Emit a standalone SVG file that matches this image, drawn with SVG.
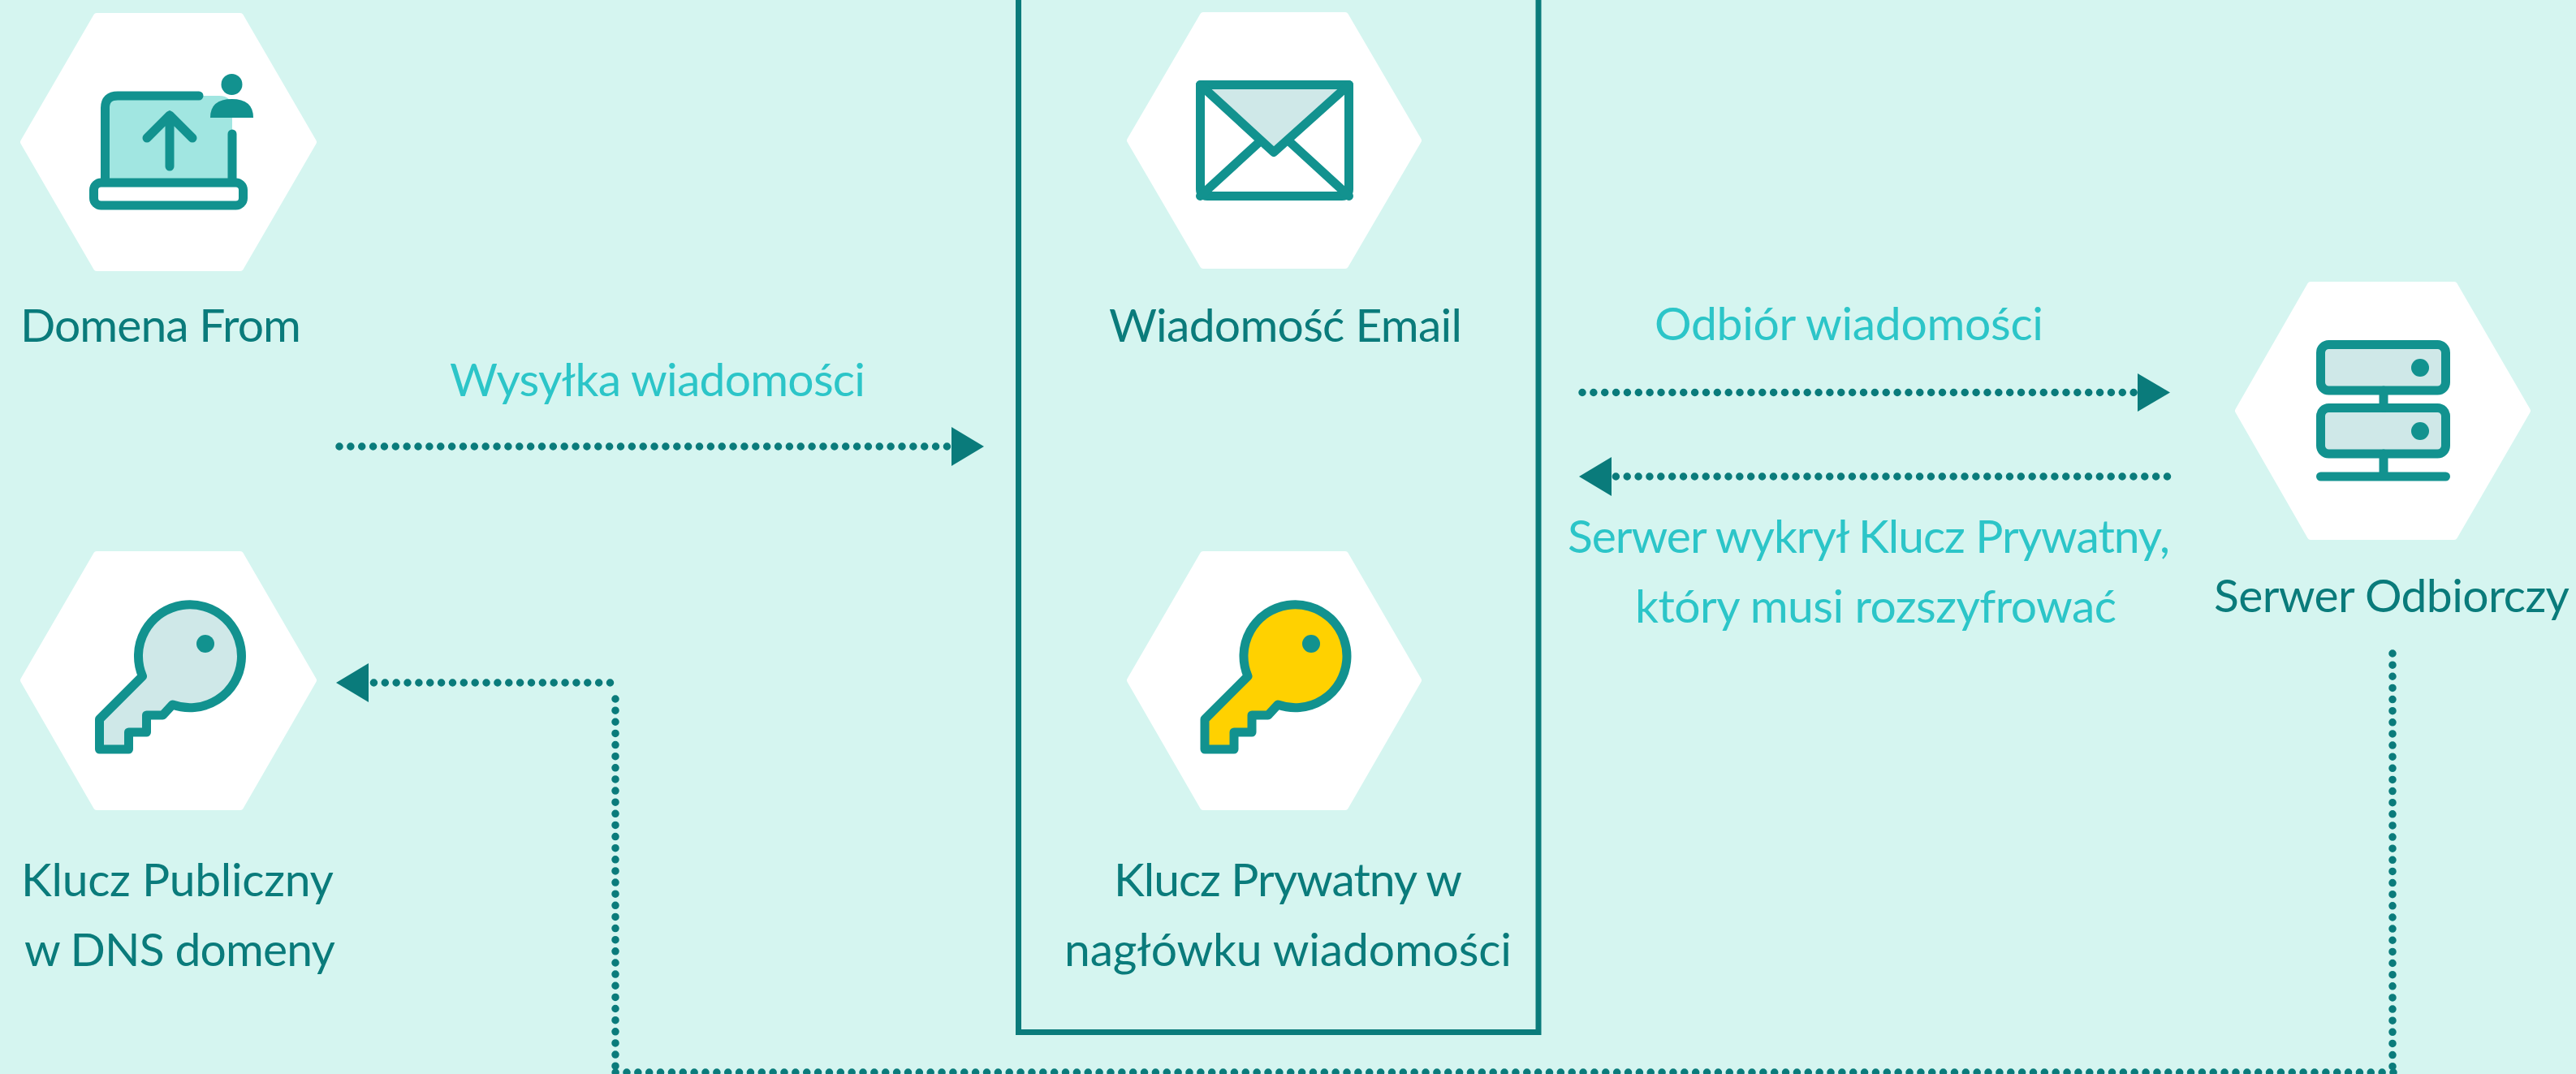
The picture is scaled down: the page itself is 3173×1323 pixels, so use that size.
<svg xmlns="http://www.w3.org/2000/svg" width="3173" height="1323" viewBox="0 0 3173 1323">
<style>
.hex{fill:#fff;stroke:#fff;stroke-width:8;stroke-linejoin:round}
.ic{stroke:#12928f;stroke-width:11;stroke-linejoin:round;stroke-linecap:round;fill:none}
.dot{fill:#12928f}
.t{font-family:Lato,"Liberation Sans",sans-serif;font-size:57px}
.d{fill:#0a7b7b}
.l{fill:#2cc5c8}
.c{fill:none;stroke:#0a7b7b;stroke-width:9.500;stroke-linecap:round;stroke-dasharray:0 13.860}
.v{stroke-dasharray:0 14.130}
.a{fill:#0a7b7b}
</style>
<rect width="3173" height="1323" fill="#d5f5f0"/>
<g id="box"><path d="M1254.500 -10V1271.500H1895V-10" fill="none" stroke="#0a7b7b" stroke-width="7"/></g>
<g id="connectors">
<path class="c" d="M418 550H1167"/><path class="a" d="M1172 526L1212 550L1172 574Z"/>
<path class="c" d="M1949 483.500H2629"/><path class="a" d="M2633 460L2673 483.500L2633 507Z"/>
<path class="c" d="M2669.500 587H1990"/><path class="a" d="M1985 563L1945 587L1985 611Z"/>
<path class="c v" d="M2947 805V1314"/>
<path class="c" d="M2948 1321H758"/>
<path class="c v" d="M758 861V1314"/>
<path class="c" d="M751.500 841H460"/><path class="a" d="M454 817L414 841L454 865Z"/>
</g>
<g id="domena-from">
<path class="hex" d="M119 20H296L386 175L296 330H119L29 175Z"/>
<path d="M130 118H270Q286 118 286 135V225H130Z" fill="#a1e6e1"/>
<path class="ic" d="M245 118H145Q129.500 118 129.500 133V222M286 165V222"/>
<rect class="ic" x="115.500" y="225" width="184" height="28" rx="9" style="fill:#fff"/>
<path class="ic" d="M209 205V142M181 170L209 142L237 170"/>
<circle class="dot" cx="285.500" cy="104" r="13"/>
<path class="dot" d="M259 145Q259 122 285.500 122Q312 122 312 145Z"/>
<text class="t d" x="25" y="421" textLength="346">Domena From</text>
</g>
<g id="wiadomosc-email">
<path class="hex" d="M1482 19H1657L1747 173L1657 327H1482L1392 173Z"/>
<path d="M1486 108H1652L1569 182Z" fill="#cfe8e8"/>
<path class="ic" d="M1478.500 104.500H1661.500V233Q1661.500 241.500 1653 241.500H1487Q1478.500 241.500 1478.500 233Z"/>
<path class="ic" d="M1478.500 104.500L1569 187.500L1661.500 104.500M1478.500 241.500L1550 176M1661.500 241.500L1590 176"/>
<text class="t d" x="1366" y="421" textLength="435">Wiadomość Email</text>
</g>
<g id="serwer-odbiorczy">
<path class="hex" d="M2846 351H3023L3113 506L3023 661H2846L2757 506Z"/>
<rect class="ic" x="2858.500" y="424.500" width="154" height="56.500" rx="10" style="fill:#cfe8e8"/>
<rect class="ic" x="2858.500" y="502.500" width="154" height="56.500" rx="10" style="fill:#cfe8e8"/>
<circle class="dot" cx="2981" cy="453" r="11"/><circle class="dot" cx="2981" cy="531" r="11"/>
<path class="ic" d="M2936 481V502M2936 559V587M2858.500 587H3012.500"/>
<text class="t d" x="2727" y="754" textLength="438">Serwer Odbiorczy</text>
</g>
<g id="klucz-publiczny">
<path class="hex" d="M119 683H296L386 838L296 994H119L29 838Z"/>
<path class="ic" transform="translate(-1361.500 0)" d="M1537 833L1484 886V923H1520V902H1542V881H1562L1574 868A63.500 63.500 0 1 0 1537 833Z" style="fill:#cfe8e8"/>
<circle class="dot" cx="253" cy="793" r="11"/>
<text class="t d" x="26" y="1104" textLength="385">Klucz Publiczny</text>
<text class="t d" x="30" y="1190" textLength="383">w DNS domeny</text>
</g>
<g id="klucz-prywatny">
<path class="hex" d="M1482 683H1657L1747 838L1657 994H1482L1392 838Z"/>
<path class="ic" d="M1537 833L1484 886V923H1520V902H1542V881H1562L1574 868A63.500 63.500 0 1 0 1537 833Z" style="fill:#ffd100"/>
<circle class="dot" cx="1615" cy="793" r="11"/>
<text class="t d" x="1372" y="1104" textLength="429">Klucz Prywatny w</text>
<text class="t d" x="1311" y="1190" textLength="551">nagłówku wiadomości</text>
</g>
<g id="labels">
<text class="t l" x="554" y="488" textLength="512">Wysyłka wiadomości</text>
<text class="t l" x="2038" y="419" textLength="479">Odbiór wiadomości</text>
<text class="t l" x="1931" y="681" textLength="742">Serwer wykrył Klucz Prywatny,</text>
<text class="t l" x="2014" y="767" textLength="593">który musi rozszyfrować</text>
</g>
</svg>
